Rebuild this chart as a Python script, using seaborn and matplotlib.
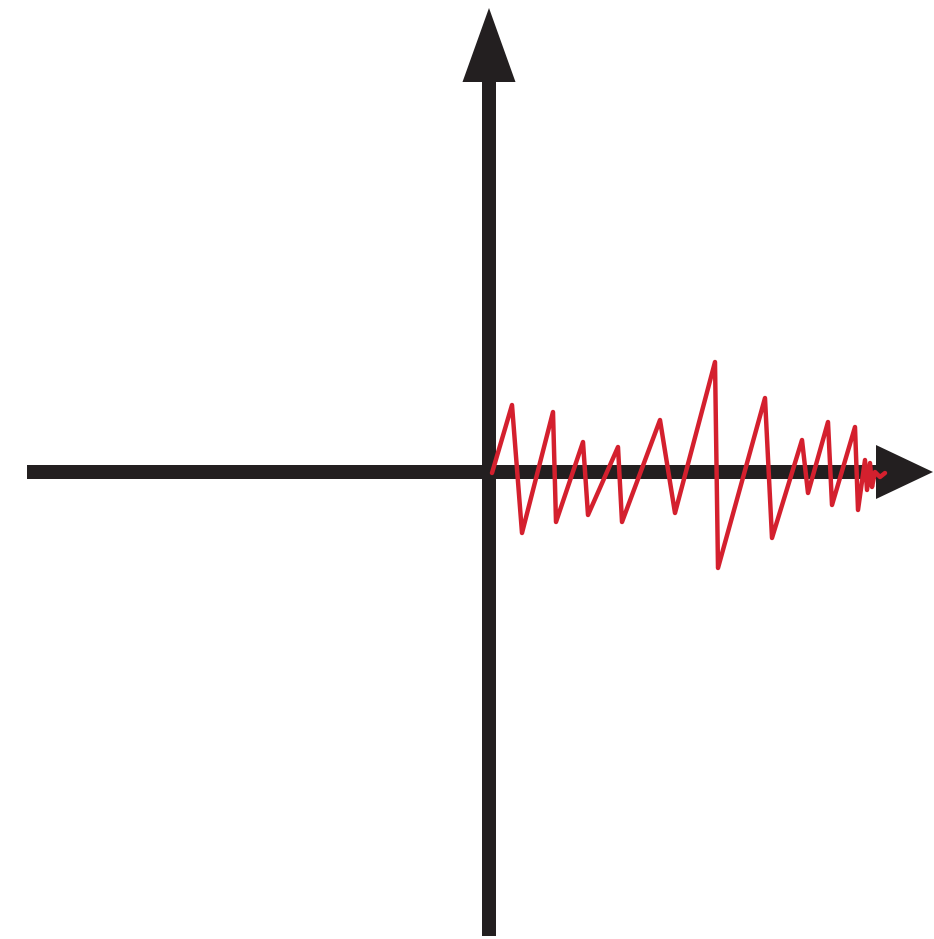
import numpy as np
import pandas as pd
import matplotlib
matplotlib.use("Agg")
import matplotlib.pyplot as plt
import seaborn as sns

# señal roja (origen en el cruce de los ejes, 1 unidad = 1 px)
t = [3, 23, 33, 64, 67, 94, 99, 129, 133, 171, 186, 226, 229, 276, 283,
     313, 319, 339, 343, 366, 369, 376, 378, 381, 383, 386, 391, 396]
amplitud = [-1, 67, -61, 60, -50, 30, -43, 25, -50, 52, -41, 110, -96, 74, -66,
            32, -21, 50, -33, 45, -38, 12, -18, 9, -15, 0, -5, -1]

df = pd.DataFrame({'t': t, 'amplitud': amplitud})

sns.set_style('white')
fig = plt.figure(figsize=(9.34, 9.39), dpi=100)
ax = fig.add_axes([0, 0, 1, 1])
ax.set_xlim(-489, 445)
ax.set_ylim(-467, 472)
ax.axis('off')

negro = '#231f20'
# eje horizontal y vertical con flechas
ax.arrow(-462, 0, 906, 0, width=14, head_width=54, head_length=57,
         length_includes_head=True, color=negro, lw=0, zorder=1)
ax.arrow(0, -464, 0, 928, width=14, head_width=53, head_length=74,
         length_includes_head=True, color=negro, lw=0, zorder=1)

sns.lineplot(data=df, x='t', y='amplitud', sort=False, estimator=None,
             color='#d4202e', linewidth=3.2, ax=ax, zorder=3)
ax.set_xlabel('')
ax.set_ylabel('')

plt.savefig('out.png', dpi=100)
